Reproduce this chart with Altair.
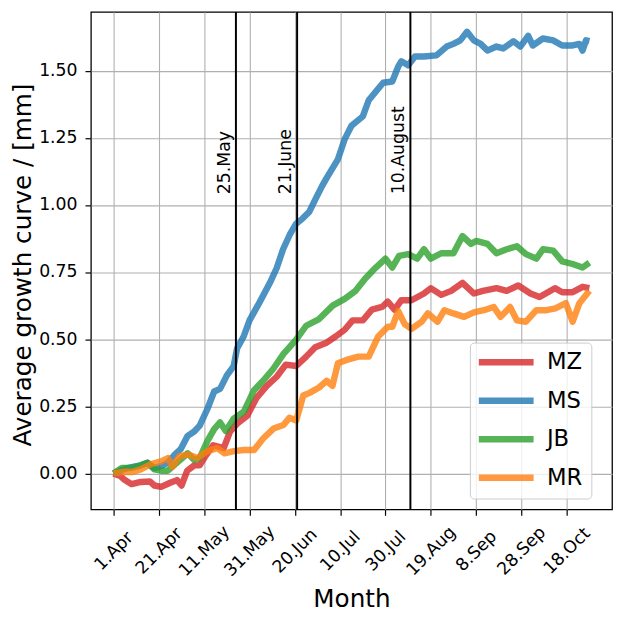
import altair as alt
import pandas as pd

SERIES = ["MZ", "MS", "JB", "MR"]
COLORS = ["#d62728", "#1f77b4", "#2ca02c", "#ff7f0e"]

# day offsets from 1 April and values
MZ_DAYS = [0, 3, 5, 8, 12, 16, 18, 21, 25, 28, 30, 32.5, 35.6, 38, 41, 44, 48.6, 51.4, 54.5, 59,
           63, 67.5, 72, 76, 80.6, 85, 89, 94, 98, 102, 105.5, 110, 114, 118.5, 121, 124, 127,
           131.5, 137, 140, 144.6, 149, 154, 159, 163, 169, 173.5, 178.6, 184, 188, 194.8, 198,
           202.6, 207, 210]
MZ_VALS = [0.0, -0.01, -0.025, -0.04, -0.032, -0.03, -0.045, -0.05, -0.035, -0.025, -0.045, 0.01,
           0.03, 0.03, 0.07, 0.105, 0.094, 0.156, 0.185, 0.215, 0.28, 0.325, 0.36, 0.405, 0.40,
           0.435, 0.47, 0.487, 0.51, 0.535, 0.57, 0.57, 0.61, 0.62, 0.64, 0.61, 0.645, 0.645, 0.67,
           0.69, 0.665, 0.68, 0.71, 0.67, 0.68, 0.69, 0.68, 0.70, 0.67, 0.657, 0.69, 0.675, 0.675,
           0.695, 0.69]

MS_DAYS = [0, 3, 6, 9, 12, 15, 18, 21, 24, 27, 29.6, 32.7, 35.6, 38, 41.4, 44.4, 47, 50, 53, 54.5,
           57.4, 60, 64.6, 69, 72, 74.8, 77.8, 80.6, 83.5, 86.4, 89, 92, 94, 99, 102, 105, 110,
           112.6, 115.5, 119, 123, 125.6, 127, 130, 133, 137, 142.5, 147, 150, 153, 156, 159, 162,
           165, 169, 172, 176.5, 179.5, 183, 185, 189.5, 194, 198, 202.6, 205.6, 207, 208.5, 210]
MS_VALS = [0.0, 0.01, 0.02, 0.025, 0.03, 0.04, 0.02, 0.027, 0.04, 0.07, 0.09, 0.14, 0.156, 0.178,
           0.24, 0.305, 0.315, 0.365, 0.40, 0.465, 0.51, 0.57, 0.64, 0.71, 0.765, 0.835, 0.89,
           0.93, 0.95, 0.975, 1.02, 1.07, 1.10, 1.17, 1.245, 1.295, 1.33, 1.39, 1.42, 1.455, 1.46,
           1.515, 1.535, 1.52, 1.553, 1.553, 1.557, 1.59, 1.60, 1.613, 1.645, 1.613, 1.60, 1.575,
           1.59, 1.583, 1.61, 1.59, 1.63, 1.594, 1.62, 1.613, 1.594, 1.594, 1.60, 1.575, 1.613,
           1.61]

JB_DAYS = [0, 3.5, 8, 12, 15, 18, 21, 24, 28, 32.7, 35.6, 38, 41.4, 44.4, 47, 49.5, 53, 57.5, 62,
           66, 70.5, 75, 80.6, 85, 90.7, 96.7, 102, 106.8, 111, 115.5, 120, 123, 126, 130, 134,
           137, 140, 144.6, 150, 154, 157.7, 160, 165, 169, 173.5, 178, 182, 186.6, 189.5, 194,
           198, 202.6, 207, 210]
JB_VALS = [0.0, 0.02, 0.02, 0.03, 0.04, 0.015, 0.01, 0.01, 0.04, 0.075, 0.05, 0.057, 0.12, 0.165,
           0.19, 0.158, 0.204, 0.23, 0.31, 0.345, 0.39, 0.445, 0.498, 0.55, 0.575, 0.625, 0.65,
           0.68, 0.725, 0.765, 0.80, 0.767, 0.81, 0.817, 0.80, 0.835, 0.80, 0.82, 0.82, 0.884,
           0.855, 0.866, 0.855, 0.82, 0.835, 0.846, 0.817, 0.80, 0.835, 0.83, 0.79, 0.78, 0.767,
           0.785]

MR_DAYS = [0, 5, 8, 12, 16.6, 21, 24, 26, 29, 33, 37, 41.4, 45.8, 49, 53, 57.5, 62, 66, 70.6, 75,
           77.6, 80.6, 83.7, 86.5, 90.7, 94, 96.6, 99, 103.7, 108, 112.6, 116.8, 121, 123, 125.6,
           128.5, 131.5, 136, 138.7, 143, 146, 150, 154.7, 159, 163.4, 167.8, 170.8, 175, 178,
           182, 186.6, 191, 195, 199.6, 202.6, 205.6, 210]
MR_VALS = [0.0, 0.006, 0.005, 0.015, 0.035, 0.045, 0.057, 0.025, 0.064, 0.07, 0.057, 0.083, 0.094,
           0.075, 0.083, 0.087, 0.087, 0.13, 0.167, 0.18, 0.207, 0.197, 0.29, 0.30, 0.32, 0.345,
           0.326, 0.41, 0.425, 0.435, 0.435, 0.51, 0.546, 0.546, 0.605, 0.556, 0.538, 0.565,
           0.596, 0.565, 0.608, 0.596, 0.583, 0.60, 0.608, 0.62, 0.583, 0.62, 0.57, 0.565, 0.608,
           0.608, 0.615, 0.634, 0.565, 0.634, 0.68]

EVENT_DATES = ["2019-05-25", "2019-06-21", "2019-08-10"]
EVENT_LABELS = ["25.May", "21.June", "10.August"]
LABEL_Y = [1.04, 1.04, 1.04]

TICK_DATES = [(4, 1), (4, 21), (5, 11), (5, 31), (6, 20), (7, 10), (7, 30), (8, 19), (9, 8),
              (9, 28), (10, 18)]
Y_TICKS = [0.0, 0.25, 0.5, 0.75, 1.0, 1.25, 1.5]
X_DOMAIN = [(3, 22), (11, 7)]
Y_DOMAIN = [-0.134, 1.719]

START = pd.Timestamp("2019-04-01")
rows = []
for name, days, vals in [("MZ", MZ_DAYS, MZ_VALS), ("MS", MS_DAYS, MS_VALS),
                         ("JB", JB_DAYS, JB_VALS), ("MR", MR_DAYS, MR_VALS)]:
    for d, v in zip(days, vals):
        rows.append({"series": name, "date": START + pd.Timedelta(days=d), "value": v})
df = pd.DataFrame(rows)

events = pd.DataFrame({"date": pd.to_datetime(EVENT_DATES), "label": EVENT_LABELS, "y": LABEL_Y})

FONT = "DejaVu Sans"

x_enc = alt.X(
    "date:T",
    scale=alt.Scale(domain=[alt.DateTime(year=2019, month=m, date=d) for m, d in X_DOMAIN], nice=False),
    axis=alt.Axis(
        values=[alt.DateTime(year=2019, month=m, date=d) for m, d in TICK_DATES],
        format="%-d.%b",
        labelAngle=-45,
        labelAlign="center",
        labelBaseline="middle",
        labelPadding=36,
        labelOverlap=False,
        labelFlush=False,
        title="Month",
        titleY=98,
        titleBaseline="alphabetic",
    ),
)


def y_enc(field):
    return alt.Y(
        field,
        scale=alt.Scale(domain=Y_DOMAIN, nice=False, zero=False),
        axis=alt.Axis(values=Y_TICKS, format=".2f", title="Average growth curve / [mm]",
                      titleX=-61, titleY=256, titleBaseline="alphabetic",
                      labelPadding=8, labelOverlap=False),
    )


color_enc = alt.Color(
    "series:N",
    scale=alt.Scale(domain=SERIES, range=COLORS),
    legend=alt.Legend(
        title=None,
        orient="none",
        legendX=384,
        legendY=335,
        symbolType="stroke",
        symbolSize=3249,
        symbolStrokeWidth=6.5,
        symbolOpacity=0.8,
        symbolOffset=-5,
        clipHeight=22,
        labelFontSize=23,
        labelFont=FONT,
        labelColor="black",
        labelOffset=10,
        labelExpr="datum.label + ' '",
        rowPadding=16,
        padding=9,
        fillColor="rgba(255,255,255,0.8)",
        strokeColor="#cccccc",
        cornerRadius=4,
    ),
)

layers = []
for s in SERIES:
    layers.append(
        alt.Chart(df)
        .transform_filter(alt.datum.series == s)
        .mark_line(strokeWidth=6.5, opacity=0.8, strokeJoin="round")
        .encode(x=x_enc, y=y_enc("value:Q"), color=color_enc)
    )

rules = alt.Chart(events).mark_rule(color="black", strokeWidth=2).encode(x=x_enc)
texts = alt.Chart(events).mark_text(
    angle=270, align="left", baseline="bottom", dy=-2, fontSize=17.5, font=FONT, color="black"
).encode(x=x_enc, y=y_enc("y:Q"), text="label:N")

chart = (
    alt.layer(*layers, rules, texts)
    .properties(
        width=528,
        height=504,
        autosize=alt.AutoSizeParams(type="none"),
        padding={"left": 84, "top": 0, "right": 4, "bottom": 100},
    )
    .configure_view(stroke="black", strokeWidth=1.3)
    .configure_axis(
        domain=False,
        grid=True,
        gridColor="#b0b0b0",
        gridWidth=1.1,
        tickColor="black",
        tickSize=6,
        tickWidth=1.2,
        labelFont=FONT,
        labelFontSize=17.5,
        labelColor="black",
        titleFont=FONT,
        titleFontSize=25,
        titleFontWeight="normal",
        titleColor="black",
    )
)

chart.save("out.html", embed_options={"renderer": "svg", "actions": False})
